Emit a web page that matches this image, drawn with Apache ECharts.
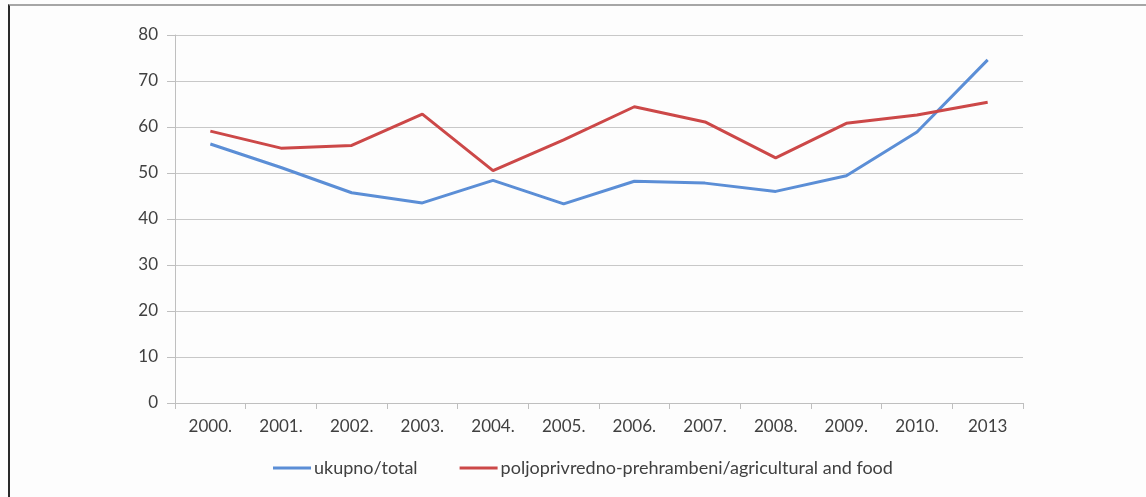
<!DOCTYPE html>
<html>
<head>
<meta charset="utf-8">
<script src="https://cdn.jsdelivr.net/npm/echarts@6/dist/echarts.min.js"></script>
<style>
  html, body { margin: 0; padding: 0; background: #fdfdfd; }
  #frame { position: absolute; left: 8px; top: 4px; width: 1138px; height: 493px;
           border-left: 2px solid #2a2a2a; border-top: 2px solid #a6a6a6; }
  #chart { position: absolute; left: 0; top: 0; width: 1146px; height: 497px; }
</style>
</head>
<body>
<div id="frame"></div>
<div id="chart"></div>
<script>
// Years on the category axis
const years = ['2000.', '2001.', '2002.', '2003.', '2004.', '2005.', '2006.', '2007.', '2008.', '2009.', '2010.', '2013'];
// ukupno/total
const total = [56.3, 51.2, 45.7, 43.5, 48.4, 43.3, 48.2, 47.8, 46.0, 49.4, 58.9, 74.6];
// poljoprivredno-prehrambeni/agricultural and food
const agriFood = [59.1, 55.4, 56.0, 62.8, 50.5, 57.2, 64.4, 61.1, 53.3, 60.8, 62.6, 65.4];

const seriesNames = ['ukupno/total', 'poljoprivredno-prehrambeni/agricultural and food'];
const labelFont = { fontFamily: 'Lato, "Open Sans", sans-serif', fontSize: 17, color: '#404040' };

const chart = echarts.init(document.getElementById('chart'), null, { renderer: 'canvas' });
chart.setOption({
  backgroundColor: 'transparent',
  animation: false,
  grid: { left: 175, right: 123, top: 35, bottom: 94 },
  legend: {
    bottom: 15,
    left: 268,
    itemWidth: 38,
    itemHeight: 3,
    itemGap: 42,
    icon: 'rect',
    textStyle: Object.assign({}, labelFont, { fontSize: 18, padding: [0, 0, 0, -2] }),
    data: seriesNames
  },
  xAxis: {
    type: 'category',
    data: years,
    boundaryGap: true,
    axisLine: { lineStyle: { color: '#bfbfbf', width: 1 } },
    axisTick: { show: true, length: 6, lineStyle: { color: '#bfbfbf' } },
    axisLabel: Object.assign({}, labelFont, { margin: 15 })
  },
  yAxis: {
    type: 'value',
    min: 0,
    max: 80,
    interval: 10,
    axisLine: { show: true, lineStyle: { color: '#bfbfbf', width: 1 } },
    axisTick: { show: true, length: 8, lineStyle: { color: '#bfbfbf' } },
    axisLabel: Object.assign({}, labelFont, { margin: 17 }),
    splitLine: { lineStyle: { color: '#c8c8c8', width: 1 } }
  },
  series: [
    {
      name: seriesNames[0],
      type: 'line',
      data: total,
      symbol: 'none',
      lineStyle: { color: '#5b8ed6', width: 3 },
      itemStyle: { color: '#5b8ed6' }
    },
    {
      name: seriesNames[1],
      type: 'line',
      data: agriFood,
      symbol: 'none',
      lineStyle: { color: '#cc4848', width: 3 },
      itemStyle: { color: '#cc4848' }
    }
  ]
});
</script>
</body>
</html>
